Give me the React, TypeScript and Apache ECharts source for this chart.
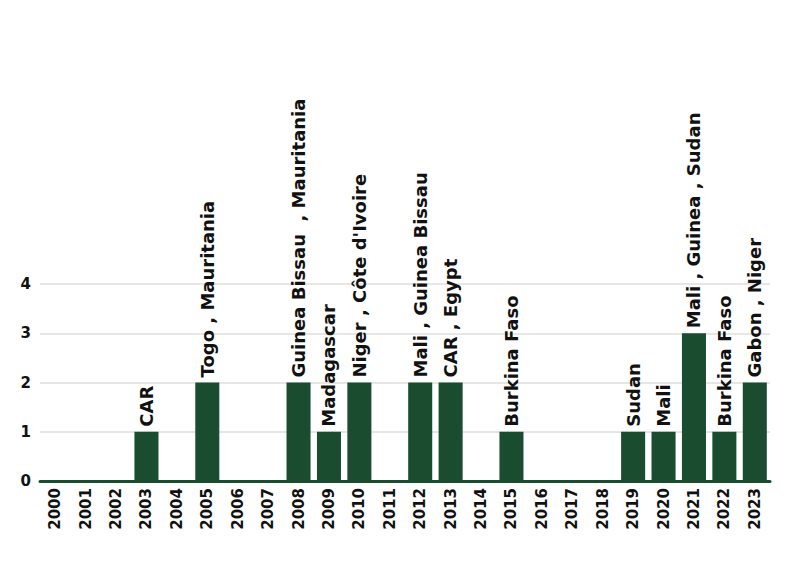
import React, { useEffect, useRef } from "react";
import * as echarts from "echarts";

const years = [
  "2000", "2001", "2002", "2003", "2004", "2005", "2006", "2007", "2008", "2009", "2010", "2011",
  "2012", "2013", "2014", "2015", "2016", "2017", "2018", "2019", "2020", "2021", "2022", "2023",
];
const coups = [0, 0, 0, 1, 0, 2, 0, 0, 2, 1, 2, 0, 2, 2, 0, 1, 0, 0, 0, 1, 1, 3, 1, 2];
const countries = [
  "", "", "", "CAR", "", "Togo , Mauritania", "", "", "Guinea Bissau  , Mauritania", "Madagascar",
  "Niger , Côte d'Ivoire", "", "Mali , Guinea Bissau", "CAR , Egypt", "", "Burkina Faso", "", "", "",
  "Sudan", "Mali", "Mali , Guinea , Sudan", "Burkina Faso", "Gabon , Niger",
];
const yTicks = [0, 1, 2, 3, 4];

const GREEN = "#1a4c30";
const FONT = "DejaVu Sans";

export default function App() {
  const ref = useRef<HTMLDivElement>(null);
  useEffect(() => {
    if (!ref.current) return;
    const chart = echarts.init(ref.current, undefined, { renderer: "svg" });
    chart.setOption({
      animation: false,
      grid: { left: 40, right: 28, top: 284, bottom: 89 },
      xAxis: {
        type: "category",
        data: years,
        axisLine: { show: true, lineStyle: { color: GREEN, width: 3 } },
        axisTick: { show: false },
        axisLabel: {
          rotate: 90,
          margin: 7,
          interval: 0,
          fontSize: 15,
          fontWeight: "bold",
          fontFamily: FONT,
          color: "#111",
        },
      },
      yAxis: {
        type: "value",
        min: yTicks[0],
        max: yTicks[yTicks.length - 1],
        interval: 1,
        axisLine: { show: false },
        axisTick: { show: false },
        splitLine: { lineStyle: { color: "#e6e6e6", width: 2 } },
        axisLabel: {
          margin: 9,
          fontSize: 15,
          fontWeight: "bold",
          fontFamily: FONT,
          color: "#111",
        },
      },
      series: [
        {
          type: "bar",
          data: coups.map((v, i) => ({ value: v, label: { show: v > 0, formatter: countries[i] } })),
          barCategoryGap: "21%",
          itemStyle: { color: GREEN },
          label: {
            show: true,
            position: "top",
            rotate: 90,
            align: "left",
            verticalAlign: "middle",
            distance: 5,
            fontSize: 18,
            fontWeight: "bold",
            fontFamily: FONT,
            color: "#111",
          },
        },
      ],
    });
    return () => chart.dispose();
  }, []);
  return (
    <div
      ref={ref}
      style={{ position: "fixed", left: 0, top: 0, width: 798, height: 570, background: "#fff" }}
    />
  );
}
